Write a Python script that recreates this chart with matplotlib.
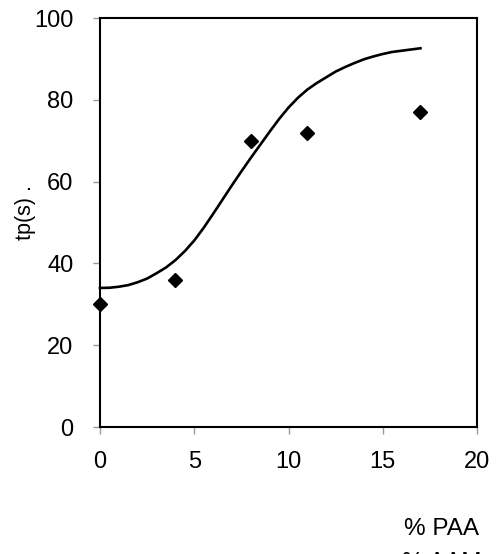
import matplotlib
matplotlib.use("Agg")
import matplotlib.pyplot as plt

plt.rcParams['font.family'] = ['Liberation Sans', 'DejaVu Sans']

# Measured points
x_pts = [0, 4, 8, 11, 17]
y_pts = [30, 36, 70, 72, 77]

# Fitted curve
x_fit = [0, 0.5, 1, 1.5, 2, 2.5, 3, 3.5, 4, 4.5, 5, 5.5, 6, 6.5, 7, 7.5, 8, 8.5,
         9, 9.5, 10, 10.5, 11, 11.5, 12, 12.5, 13, 13.5, 14, 14.5, 15, 15.5, 16, 16.5, 17]
y_fit = [34.0, 34.05, 34.3, 34.7, 35.4, 36.3, 37.6, 39.0, 40.8, 43.0, 45.6, 48.7,
         52.1, 55.6, 59.1, 62.5, 65.8, 69.0, 72.2, 75.3, 78.1, 80.5, 82.5, 84.1,
         85.5, 86.9, 88.0, 89.0, 89.9, 90.6, 91.2, 91.7, 92.0, 92.3, 92.6]

x_ticks = [0, 5, 10, 15, 20]
y_ticks = [0, 20, 40, 60, 80, 100]

FS = 17

fig = plt.figure(figsize=(5.0, 5.54), dpi=100)
ax = fig.add_axes([0.2, 0.2292, 0.754, 0.7383])

ax.plot(x_fit, y_fit, color='black', lw=1.9, zorder=3, clip_on=False)
ax.plot(x_pts, y_pts, linestyle='none', marker='D', color='black',
        markersize=7.5, zorder=4, clip_on=False)

ax.set_xlim(0, 20)
ax.set_ylim(0, 100)
ax.set_xticks(x_ticks)
ax.set_yticks(y_ticks)
ax.tick_params(axis='both', direction='out', length=5, width=1, color='#999999',
               labelsize=FS)
ax.tick_params(axis='x', pad=12.5)
ax.tick_params(axis='y', pad=14)
for s in ax.spines.values():
    s.set_linewidth(1.5)
    s.set_color('black')

fig.text(26 / 500, 1 - 212 / 554, 'tp(s) .', fontsize=15.5, rotation=90,
         ha='center', va='center')

fig.text(442 / 500, 1 - 529 / 554, '% PAA', fontsize=17.5, ha='center', va='center')
fig.text(442 / 500, 1 - 563 / 554, '% AAM', fontsize=17.5, ha='center', va='center')

fig.savefig('out.png', dpi=100)
